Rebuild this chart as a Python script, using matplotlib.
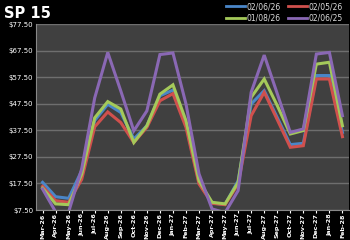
import matplotlib.pyplot as plt
from matplotlib.lines import Line2D

months = ["Mar-26", "Apr-26", "May-26", "Jun-26", "Jul-26", "Aug-26", "Sep-26", "Oct-26",
          "Nov-26", "Dec-26", "Jan-27", "Feb-27", "Mar-27", "Apr-27", "May-27", "Jun-27",
          "Jul-27", "Aug-27", "Sep-27", "Oct-27", "Nov-27", "Dec-27", "Jan-28", "Feb-28"]

s_020626 = [17.9, 12.5, 11.9, 22.3, 41.2, 47.3, 44.2, 34.2, 39.2, 50.5, 52.6, 39.9,
            17.9, 10.1, 9.6, 18.5, 47.4, 52.4, 42.3, 32.1, 32.6, 58.1, 58.1, 36.7]
s_020526 = [16.4, 11.0, 10.4, 19.0, 38.8, 44.4, 40.4, 32.9, 38.6, 48.6, 51.3, 38.6,
            17.3, 10.0, 9.5, 17.3, 43.0, 51.8, 41.5, 31.1, 31.7, 56.8, 56.8, 35.1]
s_010826 = [15.7, 9.8, 9.5, 21.0, 42.2, 48.3, 45.5, 32.9, 39.2, 51.1, 54.6, 41.1,
            18.5, 10.4, 9.8, 17.9, 49.9, 56.8, 46.8, 36.1, 37.4, 62.4, 63.1, 39.2]
s_020625 = [15.4, 6.8, 6.8, 23.0, 49.7, 66.8, 52.3, 37.3, 44.8, 66.0, 66.6, 47.4,
            21.1, 7.9, 6.5, 14.8, 51.8, 65.8, 51.3, 36.7, 38.0, 66.2, 66.8, 43.0]

series = [("02/06/26", s_020626, "#4a86c8"),
          ("02/05/26", s_020526, "#d0504d"),
          ("01/08/26", s_010826, "#a4c95a"),
          ("02/06/25", s_020625, "#8a68b4")]

yticks = [7.5, 17.5, 27.5, 37.5, 47.5, 57.5, 67.5, 77.5]

fig = plt.figure(figsize=(3.5, 2.4), dpi=100, facecolor="black")
ax = fig.add_axes([0.103, 0.125, 0.894, 0.775])
ax.set_facecolor("#404040")

x = list(range(len(months)))
for name, vals, col in series:
    ax.plot(x, vals, color=col, lw=2.2, label=name, solid_joinstyle="miter")

ax.set_xlim(-0.5, len(months) - 0.5)
ax.set_ylim(7.5, 77.5)
ax.set_yticks(yticks)
ax.set_yticklabels(["${:.2f}".format(v) for v in yticks], color="white", fontsize=5)
ax.set_xticks(x)
ax.set_xticklabels(months, rotation=90, color="white", fontsize=4.6, fontweight="bold")
ax.tick_params(axis="both", length=0, pad=2)
ax.tick_params(axis="x", length=2, color="white", pad=0.5)
ax.grid(axis="y", color="#6e6e6e", lw=1)
ax.set_axisbelow(True)
for side in ["top", "right"]:
    ax.spines[side].set_visible(False)
ax.spines["left"].set_color("#888888")
ax.spines["bottom"].set_color("#888888")

fig.text(0.012, 0.945, "SP 15", color="white", fontsize=10.5, fontweight="bold", va="center")

# legend rows: blue, red / green, purple
handles = [Line2D([], [], color=c, lw=2) for _, _, c in series]
labels = [n for n, _, _ in series]
order = [0, 2, 1, 3]
fig.legend([handles[i] for i in order], [labels[i] for i in order], ncol=2,
           loc="upper right", bbox_to_anchor=(1.0, 1.02), frameon=False,
           fontsize=5.5, labelcolor="#dddddd", handlelength=2.5, handletextpad=0.2,
           columnspacing=1.0, labelspacing=0.3)

fig.savefig("out.png", dpi=100, facecolor="black")
